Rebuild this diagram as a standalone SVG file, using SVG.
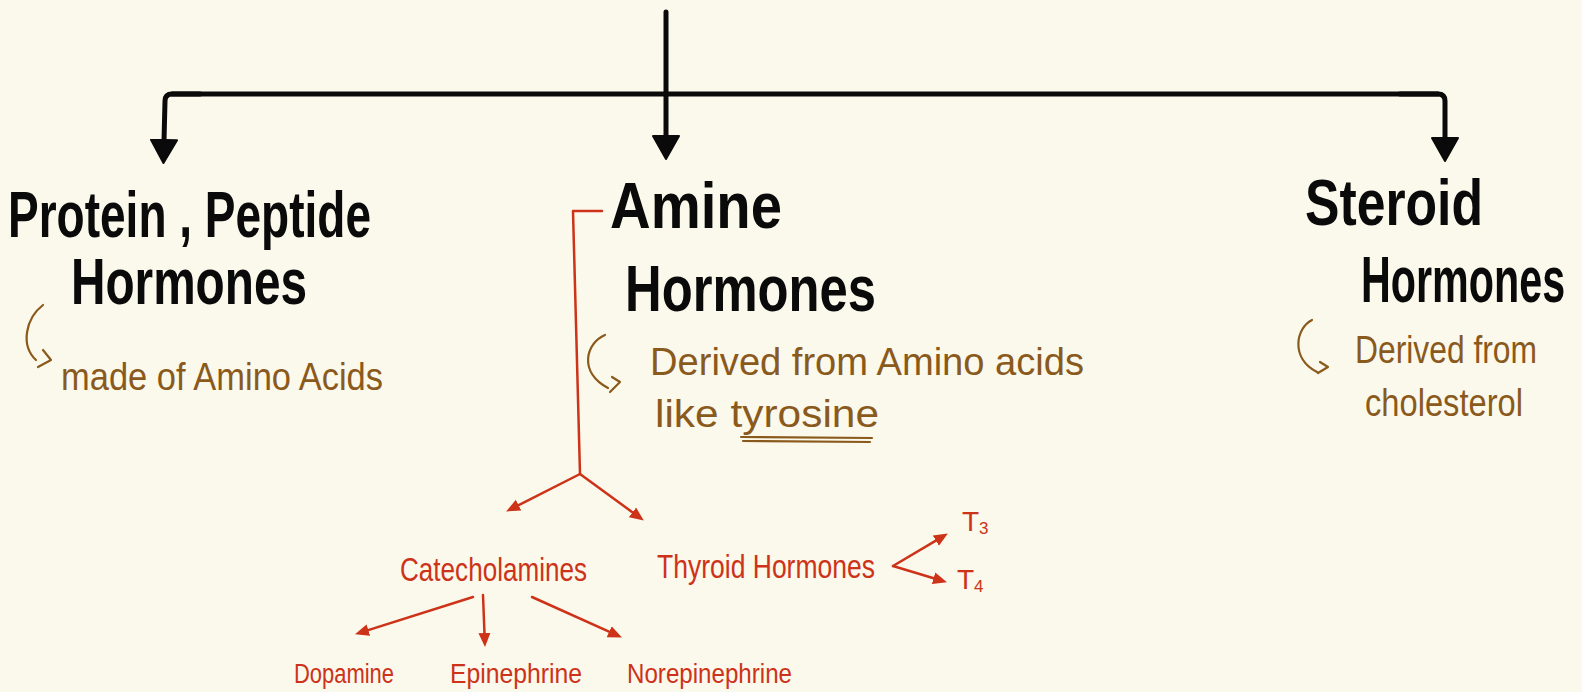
<svg xmlns="http://www.w3.org/2000/svg" width="1582" height="692" viewBox="0 0 1582 692">
<style>
.bg{fill:#FBF8EC}
.h{font-family:"Liberation Sans",Arial,sans-serif;font-weight:700;font-size:64px;fill:#0a0a0a}
.n{font-family:"Liberation Sans",Arial,sans-serif;font-size:38px;fill:#8A5A1C}
.r{font-family:"Liberation Sans",Arial,sans-serif;fill:#CC3318}
.blk{fill:none;stroke:#0a0a0a;stroke-width:5;stroke-linecap:round;stroke-linejoin:round}
.red{fill:none;stroke:#CC3318;stroke-width:2.5;stroke-linecap:round;stroke-linejoin:round}
.brn{fill:none;stroke:#8A5A1C;stroke-width:2.2;stroke-linecap:round;stroke-linejoin:round}
</style>
<defs>
<marker id="ahb" markerUnits="userSpaceOnUse" markerWidth="28" markerHeight="30" viewBox="0 0 28 30" refX="2" refY="15" orient="auto">
<path d="M1,2 L24,15 L1,28 Z" fill="#0a0a0a" stroke="#0a0a0a" stroke-width="2" stroke-linejoin="round"/>
</marker>
<marker id="ahr" markerUnits="userSpaceOnUse" markerWidth="16" markerHeight="14" viewBox="0 0 16 14" refX="1" refY="7" orient="auto">
<path d="M0,1 L14,7 L0,13 Z" fill="#CC3318"/>
</marker>
</defs>
<rect class="bg" x="0" y="0" width="1582" height="692"/>

<g id="connectors">
<path class="blk" d="M666,12 L666,137" marker-end="url(#ahb)"/>
<path class="blk" d="M172,94 L1438,94"/>
<path class="blk" d="M200,94 L172,94 Q165,94 165,101 L164,141" marker-end="url(#ahb)"/>
<path class="blk" d="M1400,94 L1438,94 Q1445,94 1445,101 L1445,139" marker-end="url(#ahb)"/>
<path class="red" d="M602,211 L573,211 L580,474"/>
<path class="red" d="M580,474 L517.7,505.6" marker-end="url(#ahr)"/>
<path class="red" d="M580,474 L633.3,512.9" marker-end="url(#ahr)"/>
<path class="red" d="M893,566 L936.7,540.1" marker-end="url(#ahr)"/>
<path class="red" d="M893,566 L934.5,578.5" marker-end="url(#ahr)"/>
<path class="red" d="M473,597 L367.4,630.4" marker-end="url(#ahr)"/>
<path class="red" d="M483,595 L484.5,634" marker-end="url(#ahr)"/>
<path class="red" d="M532,597 L610.1,632.1" marker-end="url(#ahr)"/>
</g>

<g id="protein-peptide">
<text class="h" x="8" y="237" textLength="363" lengthAdjust="spacingAndGlyphs">Protein , Peptide</text>
<text class="h" x="71" y="304" textLength="236" lengthAdjust="spacingAndGlyphs">Hormones</text>
<path class="brn" d="M43,305 C26,318 20,345 36,360 M43,350 L51,360 L38,367"/>
<text class="n" x="61" y="390" textLength="322" lengthAdjust="spacingAndGlyphs">made of Amino Acids</text>
</g>

<g id="amine">
<text class="h" x="610" y="228" textLength="172" lengthAdjust="spacingAndGlyphs">Amine</text>
<text class="h" x="625" y="311" textLength="251" lengthAdjust="spacingAndGlyphs">Hormones</text>
<path class="brn" d="M605,335 C586,343 578,372 608,388 M612,377 L620,382 L610,392"/>
<text class="n" x="650" y="375" textLength="434" lengthAdjust="spacingAndGlyphs">Derived from Amino acids</text>
<text class="n" x="655" y="427" textLength="224" lengthAdjust="spacingAndGlyphs">like tyrosine</text>
<path class="brn" d="M741,437 L872,438 M743,441 L870,442"/>
</g>

<g id="steroid">
<text class="h" x="1305" y="225" textLength="178" lengthAdjust="spacingAndGlyphs">Steroid</text>
<text class="h" transform="translate(1361,302) scale(0.645,1)" x="0" y="0">Hormones</text>
<path class="brn" d="M1312,320 C1296,328 1290,358 1317,372 M1320,362 L1328,367 L1318,373"/>
<text class="n" x="1355" y="363" textLength="182" lengthAdjust="spacingAndGlyphs">Derived from</text>
<text class="n" x="1365" y="416" textLength="158" lengthAdjust="spacingAndGlyphs">cholesterol</text>
</g>

<g id="catecholamines">
<text class="r" x="400" y="581" font-size="34" textLength="187" lengthAdjust="spacingAndGlyphs">Catecholamines</text>
</g>
<g id="thyroid-hormones">
<text class="r" x="657" y="578" font-size="34" textLength="218" lengthAdjust="spacingAndGlyphs">Thyroid Hormones</text>
</g>
<g id="t3">
<text class="r" x="962" y="531" font-size="28">T<tspan font-size="17" dy="3">3</tspan></text>
</g>
<g id="t4">
<text class="r" x="957" y="589" font-size="28">T<tspan font-size="17" dy="3">4</tspan></text>
</g>
<g id="dopamine">
<text class="r" x="294" y="683" font-size="27" textLength="100" lengthAdjust="spacingAndGlyphs">Dopamine</text>
</g>
<g id="epinephrine">
<text class="r" x="450" y="683" font-size="27" textLength="132" lengthAdjust="spacingAndGlyphs">Epinephrine</text>
</g>
<g id="norepinephrine">
<text class="r" x="627" y="683" font-size="27" textLength="165" lengthAdjust="spacingAndGlyphs">Norepinephrine</text>
</g>
</svg>
